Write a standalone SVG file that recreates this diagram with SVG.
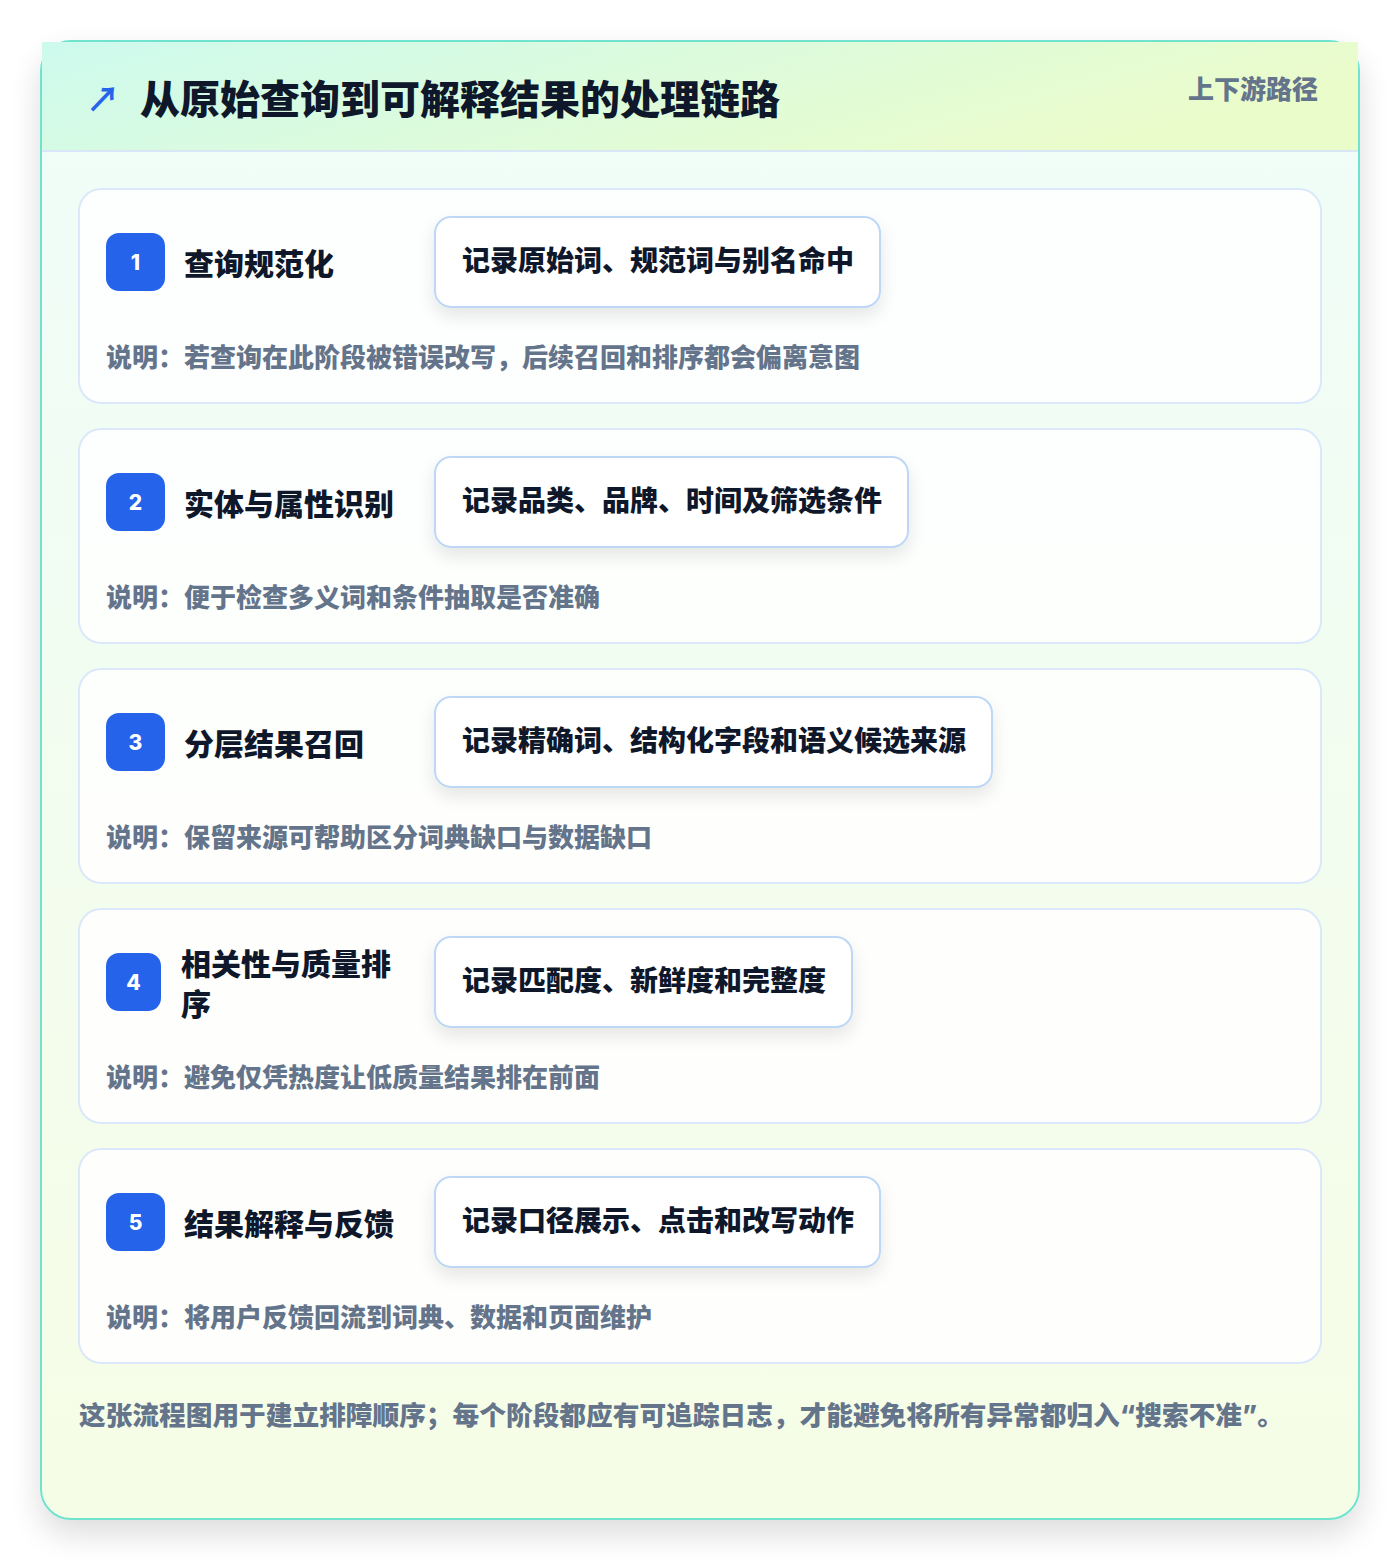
<svg xmlns="http://www.w3.org/2000/svg" width="1400" height="1560" viewBox="0 0 1400 1560">
  <defs>
    <linearGradient id="hdr" x1="0" y1="0" x2="1" y2="0.3">
      <stop offset="0" stop-color="#cdfaee"/>
      <stop offset="1" stop-color="#ebfccb"/>
    </linearGradient>
    <linearGradient id="body" x1="0" y1="0" x2="0" y2="1">
      <stop offset="0" stop-color="#effdf9"/>
      <stop offset="1" stop-color="#f6fde6"/>
    </linearGradient>
    <filter id="outerShadow" x="-10%" y="-10%" width="120%" height="125%">
      <feGaussianBlur in="SourceAlpha" stdDeviation="16"/>
      <feOffset dx="0" dy="14" result="b"/>
      <feComponentTransfer><feFuncA type="linear" slope="0.14"/></feComponentTransfer>
      <feMerge><feMergeNode/><feMergeNode in="SourceGraphic"/></feMerge>
    </filter>
    <filter id="boxShadow" x="-20%" y="-30%" width="140%" height="180%">
      <feGaussianBlur in="SourceAlpha" stdDeviation="9"/>
      <feOffset dx="0" dy="8" result="b"/>
      <feComponentTransfer><feFuncA type="linear" slope="0.10"/></feComponentTransfer>
      <feMerge><feMergeNode/><feMergeNode in="SourceGraphic"/></feMerge>
    </filter>
  </defs>
  <style>
    .txt { font-family: "Inter", "Noto Sans CJK SC", "Noto Sans", sans-serif; font-weight: 800; }
    .card { fill: #ffffff; fill-opacity: 0.85; stroke: #dbe8fb; stroke-width: 2; }
    .badge { fill: #2563eb; }
    .num { fill: #ffffff; font-size: 21px; text-anchor: middle; }
    .title { fill: #0f172a; font-size: 30px; }
    .rec { fill: #ffffff; stroke: #bfd7f7; stroke-width: 2; }
    .rectxt { fill: #0f172a; font-size: 28px; }
    .desc { fill: #64748b; font-size: 26px; }
  </style>

  <rect x="0" y="0" width="1400" height="1560" fill="#ffffff"/>

  <g id="frame">
    <rect x="41" y="41" width="1318" height="1478" rx="30" fill="url(#body)" stroke="#6fe3cf" stroke-width="2" filter="url(#outerShadow)"/>
    <rect x="42" y="42" width="1316" height="109" fill="url(#hdr)"/>
    <line x1="42" y1="151" x2="1358" y2="151" stroke="#d8e6f6" stroke-width="2"/>
  </g>

  <g id="header">
    <text x="86" y="112" font-size="34" fill="#2563eb" font-weight="700" font-family="'Noto Sans CJK SC', sans-serif">↗</text>
    <text class="txt" x="140" y="114" font-size="40" fill="#0f172a">从原始查询到可解释结果的处理链路</text>
    <text class="txt" x="1318" y="99" font-size="26" fill="#64748b" text-anchor="end">上下游路径</text>
  </g>

  <g id="step1">
    <rect class="card" x="79" y="189" width="1242" height="214" rx="22"/>
    <rect class="badge" x="106" y="233" width="59" height="58" rx="13"/>
    <text class="txt num" x="135.5" y="270">1</text>
    <text class="txt title" x="184" y="275">查询规范化</text>
    <rect class="rec" x="435" y="217" width="445" height="90" rx="16" filter="url(#boxShadow)"/>
    <text class="txt rectxt" x="462" y="271">记录原始词、规范词与别名命中</text>
    <text class="txt desc" x="106" y="367">说明：若查询在此阶段被错误改写，后续召回和排序都会偏离意图</text>
  </g>

  <g id="step2">
    <rect class="card" x="79" y="429" width="1242" height="214" rx="22"/>
    <rect class="badge" x="106" y="473" width="59" height="58" rx="13"/>
    <text class="txt num" x="135.5" y="510">2</text>
    <text class="txt title" x="184" y="515">实体与属性识别</text>
    <rect class="rec" x="435" y="457" width="473" height="90" rx="16" filter="url(#boxShadow)"/>
    <text class="txt rectxt" x="462" y="511">记录品类、品牌、时间及筛选条件</text>
    <text class="txt desc" x="106" y="607">说明：便于检查多义词和条件抽取是否准确</text>
  </g>

  <g id="step3">
    <rect class="card" x="79" y="669" width="1242" height="214" rx="22"/>
    <rect class="badge" x="106" y="713" width="59" height="58" rx="13"/>
    <text class="txt num" x="135.5" y="750">3</text>
    <text class="txt title" x="184" y="755">分层结果召回</text>
    <rect class="rec" x="435" y="697" width="557" height="90" rx="16" filter="url(#boxShadow)"/>
    <text class="txt rectxt" x="462" y="751">记录精确词、结构化字段和语义候选来源</text>
    <text class="txt desc" x="106" y="847">说明：保留来源可帮助区分词典缺口与数据缺口</text>
  </g>

  <g id="step4">
    <rect class="card" x="79" y="909" width="1242" height="214" rx="22"/>
    <rect class="badge" x="106" y="953" width="55" height="58" rx="13"/>
    <text class="txt num" x="133.5" y="990">4</text>
    <text class="txt title" x="181" y="975">相关性与质量排</text>
    <text class="txt title" x="181" y="1015">序</text>
    <rect class="rec" x="435" y="937" width="417" height="90" rx="16" filter="url(#boxShadow)"/>
    <text class="txt rectxt" x="462" y="991">记录匹配度、新鲜度和完整度</text>
    <text class="txt desc" x="106" y="1087">说明：避免仅凭热度让低质量结果排在前面</text>
  </g>

  <g id="step5">
    <rect class="card" x="79" y="1149" width="1242" height="214" rx="22"/>
    <rect class="badge" x="106" y="1193" width="59" height="58" rx="13"/>
    <text class="txt num" x="135.5" y="1230">5</text>
    <text class="txt title" x="184" y="1235">结果解释与反馈</text>
    <rect class="rec" x="435" y="1177" width="445" height="90" rx="16" filter="url(#boxShadow)"/>
    <text class="txt rectxt" x="462" y="1231">记录口径展示、点击和改写动作</text>
    <text class="txt desc" x="106" y="1327">说明：将用户反馈回流到词典、数据和页面维护</text>
  </g>

  <g id="connectors"></g>

  <g id="footer">
    <text class="txt" x="79" y="1425" font-size="26.7" fill="#64748b">这张流程图用于建立排障顺序；每个阶段都应有可追踪日志，才能避免将所有异常都归入“搜索不准”。</text>
  </g>
</svg>
